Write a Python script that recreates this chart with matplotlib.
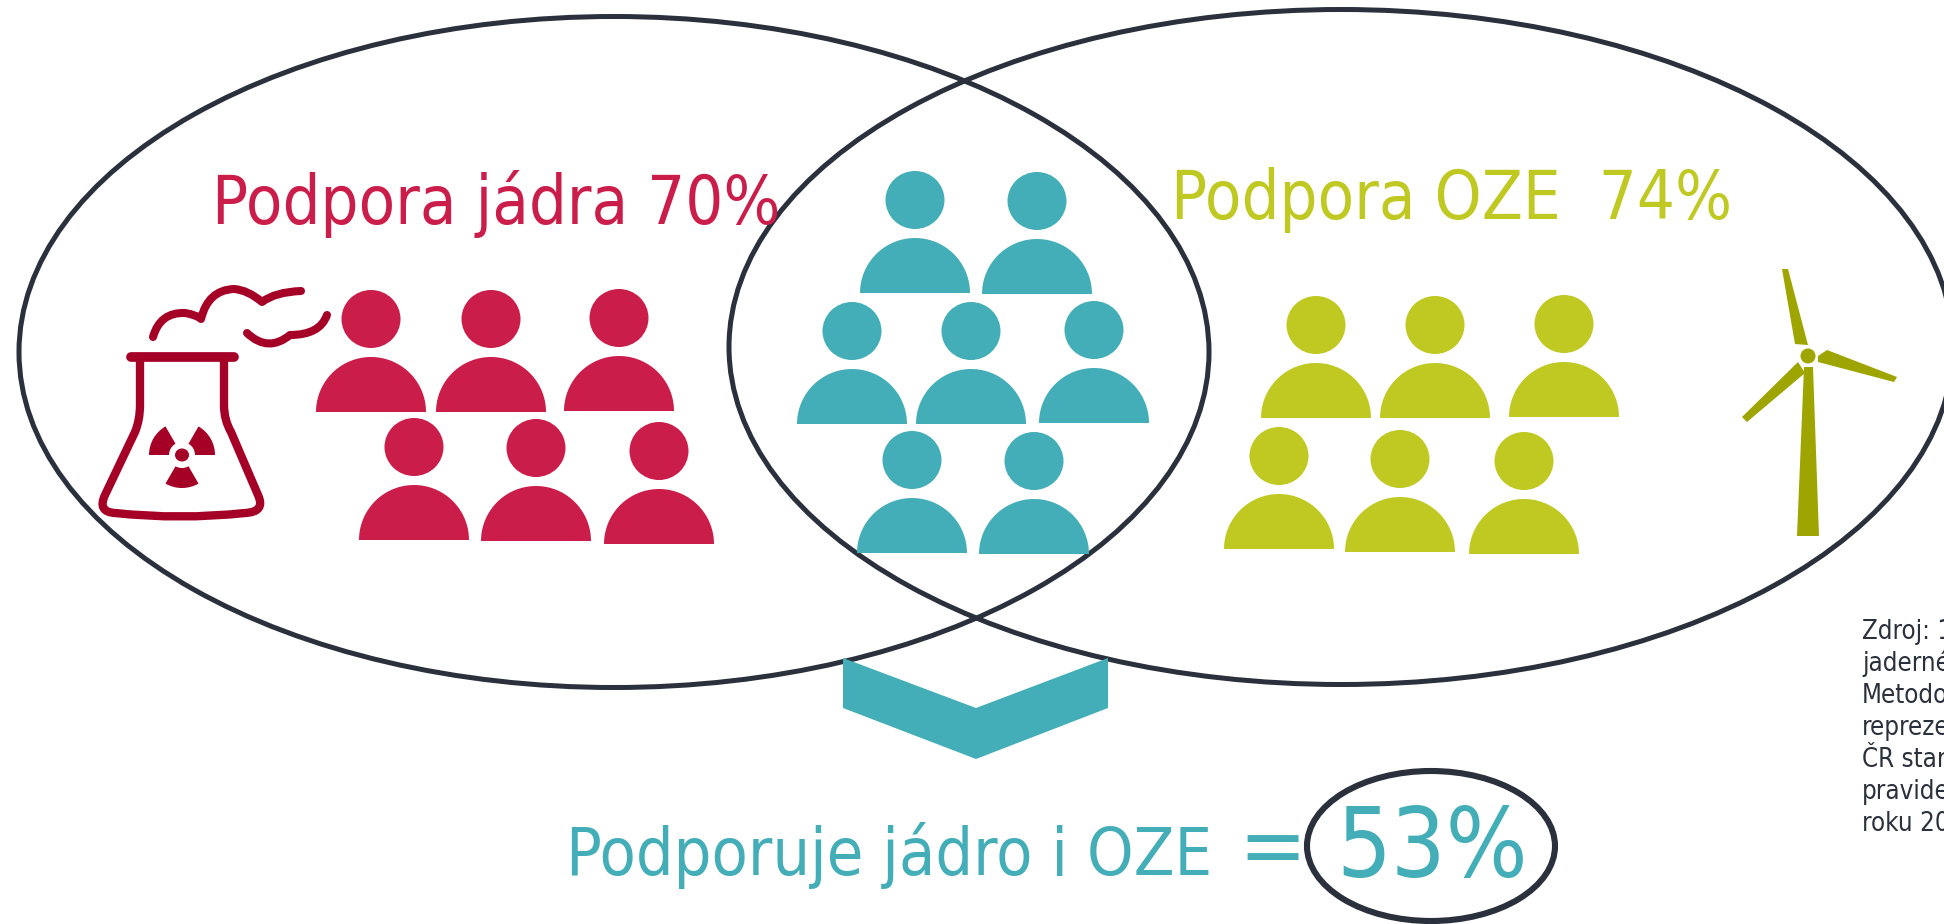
import matplotlib
matplotlib.use("Agg")
import matplotlib.pyplot as plt
from matplotlib.patches import Ellipse, PathPatch, Polygon, Wedge
from matplotlib.path import Path
import numpy as np

# colours
red = "#CB1D4A"
dark_red = "#A50026"
teal = "#43AEB8"
olive = "#BFC921"
dark_olive = "#9EA400"
line_col = "#2A303C"

# people: head centre x and body base y, one list per group (figure pixels)
red_x = [371, 491, 619, 414, 536, 659]
red_base = [412, 412, 411, 540, 541, 544]
teal_x = [915, 1037, 852, 971, 1094, 912, 1034]
teal_base = [293, 294, 424, 424, 423, 553, 554]
olive_x = [1316, 1435, 1564, 1279, 1400, 1524]
olive_base = [418, 418, 417, 549, 552, 554]

# rings: centre x, centre y, width, height
ring_left = (614, 352, 1190, 671)
ring_right = (1341, 347, 1224, 675)
ring_result = (1431, 846, 248, 150)

label_jadro = "Podpora jádra 70%"
label_oze = "Podpora OZE  74%"
label_both = "Podporuje jádro i OZE"
label_result = "53%"
source_lines = ["Zdroj: 1", "jaderné", "Metodo", "repreze", "ČR star", "pravide", "roku 20"]

# chevron outline
chevron_x = [843, 976, 1108, 1108, 976, 843]
chevron_y = [658, 708, 658, 708, 759, 708]

# reactor icon, lines and curves
wall = [(140, 357), (140, 405), (140, 420), (135, 432), (105, 495), (97, 512), (115, 513),
        (180, 520), (245, 513), (266, 512), (258, 495), (231, 432), (224, 420), (224, 405), (224, 357)]
wall_codes = [Path.MOVETO, Path.LINETO, Path.CURVE3, Path.CURVE3, Path.LINETO, Path.CURVE3, Path.CURVE3,
              Path.CURVE3, Path.CURVE3, Path.CURVE3, Path.CURVE3, Path.LINETO, Path.CURVE3, Path.CURVE3, Path.LINETO]
smoke1 = [(153, 337), (160, 312), (185, 313), (197, 315), (201, 319), (208, 290), (234, 289),
          (248, 290), (262, 302), (275, 292), (301, 291)]
smoke2 = [(247, 333), (268, 353), (290, 335), (320, 335), (327, 315)]

# turbine icon
tower_x = [1804, 1813, 1819, 1797]
tower_y = [367, 367, 536, 536]
blade1_x = [1782, 1788, 1808, 1795]
blade1_y = [269, 269, 345, 344]
blade2_x = [1827, 1897, 1894, 1818, 1818]
blade2_y = [350, 377, 382, 362, 356]
blade3_x = [1798, 1805, 1747, 1742]
blade3_y = [362, 373, 422, 417]

fig = plt.figure(figsize=(19.44, 9.24), dpi=100)
ax = fig.add_axes([0, 0, 1, 1])
ax.set_xlim(0, 1944)
ax.set_ylim(924, 0)
ax.axis("off")


def draw_people(xs, bases, col):
    t = np.linspace(np.pi, 2 * np.pi, 60)
    for x, b in zip(xs, bases):
        ax.add_patch(Ellipse((x, b - 93), 59, 58, fc=col, ec="none", zorder=3))
        # body is half an ellipse on a flat base
        ax.add_patch(Polygon(np.column_stack([x + 55 * np.cos(t), b + 55 * np.sin(t)]), fc=col, ec="none", zorder=3))


def draw_curve(points, codes, lw):
    ax.add_patch(PathPatch(Path(points, codes), fc="none", ec=dark_red, lw=lw, capstyle="round", joinstyle="round", zorder=3))


for r, lw in [(ring_left, 3.6), (ring_right, 3.6), (ring_result, 4.4)]:
    ax.add_patch(Ellipse((r[0], r[1]), r[2], r[3], fc="none", ec=line_col, lw=lw, zorder=2))

draw_people(red_x, red_base, red)
draw_people(teal_x, teal_base, teal)
draw_people(olive_x, olive_base, olive)

ax.add_patch(Polygon(np.column_stack([chevron_x, chevron_y]), fc=teal, ec="none", zorder=4))

# reactor
ax.plot([131, 234], [357, 357], color=dark_red, lw=7, solid_capstyle="round", zorder=3)
draw_curve(wall, wall_codes, 6)
draw_curve(smoke1, [Path.MOVETO] + [Path.CURVE3] * 10, 5.8)
draw_curve(smoke2, [Path.MOVETO] + [Path.CURVE3] * 4, 5.8)
ax.add_patch(Ellipse((182, 455), 14, 13, fc=dark_red, ec="none", zorder=3))
for a in [(-180, -120), (-60, 0), (60, 120)]:
    ax.add_patch(Wedge((182, 455), 33, a[0], a[1], width=20, fc=dark_red, ec="none", zorder=3))

# turbine
for px, py in [(tower_x, tower_y), (blade1_x, blade1_y), (blade2_x, blade2_y), (blade3_x, blade3_y)]:
    ax.add_patch(Polygon(np.column_stack([px, py]), fc=dark_olive, ec="none", zorder=3))
ax.add_patch(Ellipse((1808, 356), 15, 15, fc=dark_olive, ec="none", zorder=3))

font = {"family": "DejaVu Sans", "stretch": "condensed"}
ax.text(212, 224, label_jadro, color=red, fontsize=48, zorder=5, **font)
ax.text(1171, 219, label_oze, color=olive, fontsize=48, zorder=5, **font)
ax.text(566, 875, label_both, color=teal, fontsize=47.7, zorder=5, **font)
ax.text(1238, 876, "=", color=teal, fontsize=65, zorder=5, **font)
ax.text(1336, 877, label_result, color=teal, fontsize=69, zorder=5, **font)

for i, s in enumerate(source_lines):
    ax.text(1862, 639 + i * 32, s, color=line_col, fontsize=18.5, zorder=5, **font)

fig.savefig("out.png", dpi=100)
